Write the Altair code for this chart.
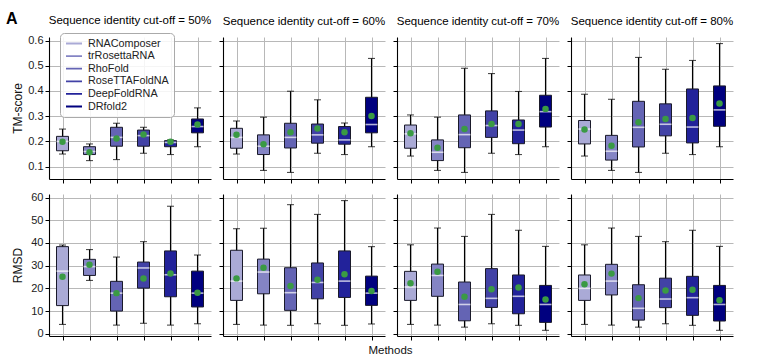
import altair as alt
import pandas as pd

METHODS = ["RNAComposer", "trRosettaRNA", "RhoFold", "RoseTTAFoldNA", "DeepFoldRNA", "DRfold2"]
COLORS = ["#aaaad6", "#8484c4", "#6464b4", "#4242a6", "#22229a", "#00007f"]
CUTOFFS = ["50%", "60%", "70%", "80%"]

# TM-score box statistics, one list per cut-off (50, 60, 70, 80 %)
TM_LOW = [[0.150, 0.124, 0.128, 0.153, 0.148, 0.179],
          [0.150, 0.085, 0.077, 0.153, 0.148, 0.179],
          [0.142, 0.085, 0.077, 0.153, 0.148, 0.179],
          [0.142, 0.085, 0.077, 0.153, 0.148, 0.179]]
TM_Q1 = [[0.163, 0.148, 0.181, 0.181, 0.179, 0.234],
         [0.173, 0.148, 0.174, 0.193, 0.189, 0.234],
         [0.173, 0.124, 0.175, 0.216, 0.191, 0.257],
         [0.190, 0.126, 0.178, 0.222, 0.194, 0.260]]
TM_MED = [[0.200, 0.160, 0.216, 0.223, 0.196, 0.259],
          [0.216, 0.181, 0.216, 0.226, 0.206, 0.267],
          [0.230, 0.157, 0.227, 0.263, 0.245, 0.318],
          [0.249, 0.161, 0.256, 0.268, 0.257, 0.325]]
TM_Q3 = [[0.220, 0.179, 0.256, 0.245, 0.203, 0.289],
         [0.252, 0.226, 0.272, 0.269, 0.259, 0.375],
         [0.265, 0.206, 0.305, 0.321, 0.285, 0.383],
         [0.283, 0.224, 0.359, 0.349, 0.408, 0.420]]
TM_HIGH = [[0.249, 0.190, 0.272, 0.256, 0.206, 0.333],
           [0.281, 0.296, 0.399, 0.365, 0.273, 0.529],
           [0.305, 0.296, 0.490, 0.469, 0.398, 0.529],
           [0.387, 0.367, 0.533, 0.486, 0.521, 0.588]]
TM_MEAN = [[0.199, 0.157, 0.212, 0.227, 0.199, 0.267],
           [0.226, 0.189, 0.236, 0.251, 0.236, 0.301],
           [0.232, 0.175, 0.249, 0.269, 0.269, 0.329],
           [0.247, 0.183, 0.276, 0.289, 0.293, 0.350]]

# RMSD box statistics
RM_LOW = [[4.1, 23.5, 3.8, 4.6, 3.8, 4.4],
          [4.1, 3.8, 3.7, 4.4, 3.7, 4.3],
          [4.1, 3.8, 2.9, 4.4, 3.7, 1.5],
          [4.1, 3.8, 2.9, 4.4, 3.7, 1.5]]
RM_Q1 = [[12.4, 25.7, 10.0, 20.1, 16.3, 11.8],
         [14.7, 17.6, 10.3, 15.4, 16.0, 12.5],
         [14.7, 16.5, 5.7, 11.6, 8.8, 5.0],
         [14.7, 17.1, 6.0, 11.5, 8.1, 5.6]]
RM_MED = [[27.6, 29.6, 17.9, 29.0, 26.0, 17.9],
          [23.2, 27.2, 18.1, 22.6, 23.2, 17.9],
          [20.6, 25.7, 12.9, 15.6, 16.5, 12.9],
          [20.0, 23.2, 11.2, 15.3, 15.9, 12.9]]
RM_Q3 = [[38.4, 32.8, 23.1, 31.6, 36.5, 27.6],
         [36.8, 32.9, 29.1, 31.2, 36.5, 25.4],
         [27.5, 30.7, 22.8, 28.7, 25.9, 21.3],
         [25.9, 30.6, 21.6, 24.5, 25.3, 21.3]]
RM_HIGH = [[39.1, 37.1, 33.8, 40.6, 56.2, 34.7],
           [46.3, 46.5, 56.9, 52.6, 58.7, 38.4],
           [39.2, 46.6, 42.9, 52.6, 45.6, 38.5],
           [39.2, 46.6, 42.9, 40.6, 45.6, 38.5]]
RM_MEAN = [[25.1, 30.4, 17.9, 24.3, 26.6, 18.1],
           [24.4, 29.1, 21.0, 23.8, 26.2, 18.8],
           [22.3, 27.3, 16.3, 19.6, 20.4, 15.1],
           [21.8, 26.5, 15.7, 19.1, 19.4, 14.8]]

TM_TICKS = [0.1, 0.2, 0.3, 0.4, 0.5, 0.6]
RM_TICKS = [0, 10, 20, 30, 40, 50, 60]

FONT = "Liberation Sans"
W, H = 162, 142


def make_df(k, low, q1, med, q3, high, mean):
    return pd.DataFrame({"method": METHODS, "low": low[k], "q1": q1[k], "median": med[k],
                         "q3": q3[k], "high": high[k], "mean": mean[k]})


def panel(df, metric, col, row):
    is_tm = metric == "TM"
    domain = [0.051, 0.614] if is_tm else [-1.0, 61.6]
    ticks = TM_TICKS if is_tm else RM_TICKS

    yaxis_kw = dict(values=ticks, labels=(col == 0), tickSize=4, grid=True,
                    format=".1f" if is_tm else "d")
    if col == 0:
        yaxis_kw.update(title="TM-score" if is_tm else "RMSD", titleX=-25, titleY=H / 2)
    else:
        yaxis_kw.update(title=None)
    yaxis = alt.Axis(**yaxis_kw)
    yscale = alt.Scale(domain=domain, nice=False, zero=False)

    def Y(field):
        return alt.Y(f"{field}:Q", scale=yscale, axis=yaxis)

    xaxis_kw = dict(labels=False, ticks=True, tickSize=4, grid=True)
    if row == 1 and col == 1:
        xaxis_kw.update(title="Methods", titleX=167, titleY=8, titleFontSize=11.5)
    else:
        xaxis_kw.update(title=None)
    X = alt.X("method:N", sort=METHODS, scale=alt.Scale(type="point", padding=0.5),
              axis=alt.Axis(**xaxis_kw))

    base = alt.Chart(df).encode(x=X)
    whisk = base.mark_rule(color="black", strokeWidth=1.1).encode(y=Y("low"), y2="high:Q")
    cap_lo = base.mark_tick(color="black", size=7, thickness=1.1).encode(y=Y("low"))
    cap_hi = base.mark_tick(color="black", size=7, thickness=1.1).encode(y=Y("high"))
    box = base.mark_bar(size=12, stroke="#1a1a2a", strokeWidth=1).encode(
        y=Y("q1"), y2="q3:Q",
        fill=alt.Fill("method:N", sort=METHODS,
                      scale=alt.Scale(domain=METHODS, range=COLORS), legend=None))
    med = base.mark_tick(color="white", size=12, thickness=1.6).encode(y=Y("median"))
    mean = base.mark_circle(color="#3a9a44", size=42, opacity=1).encode(y=Y("mean"))
    layers = [whisk, cap_lo, cap_hi, box, med, mean]

    if row == 0 and col == 0:
        # one point per series: draws nothing, only feeds the line legend
        leg = base.mark_line(strokeWidth=1.8).encode(
            y=Y("mean"),
            stroke=alt.Stroke("method:N", sort=METHODS,
                              scale=alt.Scale(domain=METHODS, range=COLORS),
                              legend=alt.Legend(title=None, orient="none", legendX=11, legendY=-4,
                                                symbolType="stroke", symbolSize=256,
                                                symbolStrokeWidth=1.8, labelFont=FONT,
                                                labelFontSize=10.8, labelColor="#222222",
                                                labelOffset=5, padding=5, rowPadding=0.6,
                                                clipHeight=11,
                                                strokeColor="#aaaaaa",
                                                fillColor="rgba(255,255,255,0.85)",
                                                cornerRadius=4)))
        layers.append(leg)
    if row == 1 and col == 0:
        letter = alt.Chart(pd.DataFrame({"t": ["A"]})).mark_text(
            align="left", baseline="top", fontSize=16, fontWeight="bold", font=FONT,
            color="black").encode(text="t:N", x=alt.value(-43), y=alt.value(-183.5))
        layers.append(letter)

    props = dict(width=W, height=H)
    if row == 0:
        props["title"] = alt.TitleParams(f"Sequence identity cut-off = {CUTOFFS[col]}",
                                         offset=6 if col == 0 else 10)
    return alt.layer(*layers).properties(**props)


panels = []
for k in range(4):
    panels.append(panel(make_df(k, TM_LOW, TM_Q1, TM_MED, TM_Q3, TM_HIGH, TM_MEAN), "TM", k, 0))
for k in range(4):
    panels.append(panel(make_df(k, RM_LOW, RM_Q1, RM_MED, RM_Q3, RM_HIGH, RM_MEAN), "RM", k, 1))

chart = alt.concat(*panels, columns=4, spacing={"row": 15, "column": 12}, bounds="flush").resolve_scale(
    stroke="independent"
).resolve_legend(stroke="independent").properties(
    padding={"left": 6, "top": 10, "right": 5, "bottom": 5}
).configure_view(stroke=None).configure_axis(
    domainColor="black", domainWidth=1.1, tickColor="black", tickWidth=1,
    gridColor="#b8b8b8", gridWidth=1, labelFont=FONT, labelFontSize=11, labelColor="#222222",
    labelPadding=2, titleFont=FONT, titleFontSize=12, titleFontWeight="normal", titleColor="#111111"
).configure_title(font=FONT, fontSize=11.5, fontWeight="normal", color="black", anchor="middle")

chart.save("out.html", embed_options={"renderer": "svg", "actions": False})
